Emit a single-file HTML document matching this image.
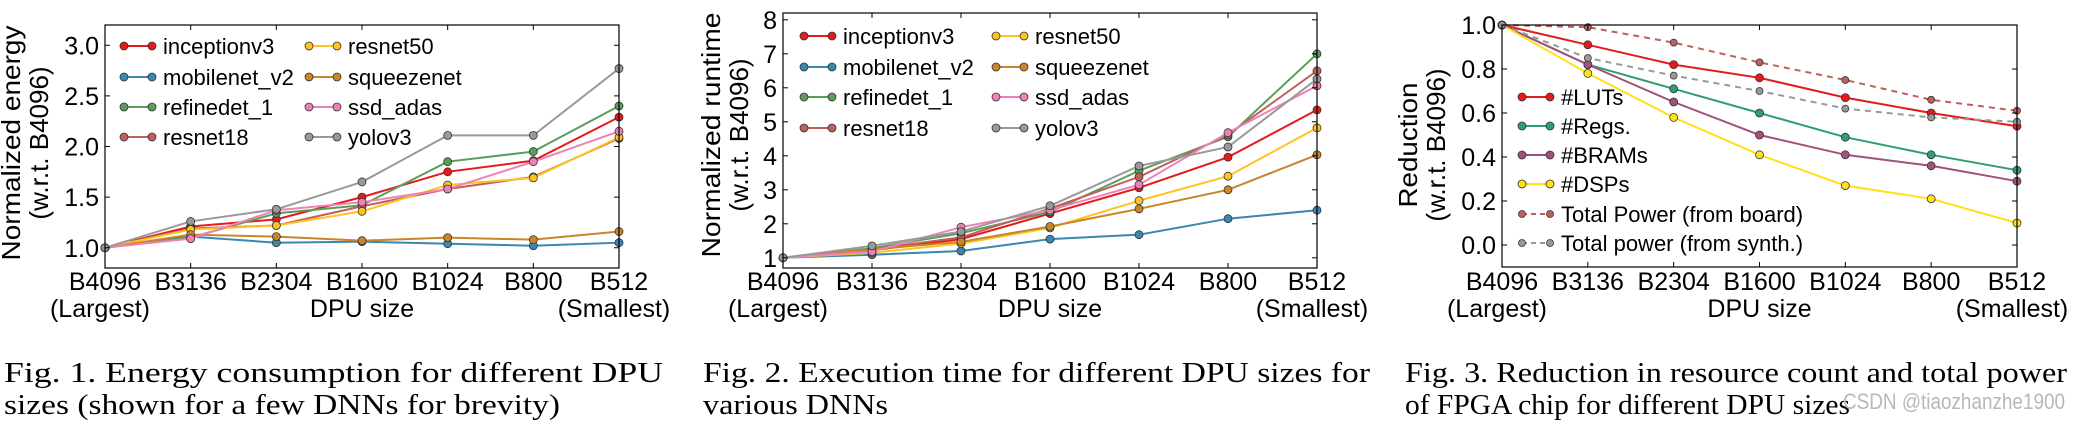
<!DOCTYPE html>
<html><head><meta charset="utf-8"><style>
html,body{margin:0;padding:0;background:#fff;}
svg{display:block;}
text{font-family:"Liberation Sans",sans-serif;fill:#000;}
.cap{font-family:"Liberation Serif",serif;font-size:29px;}
</style></head><body>
<svg id="root" width="2078" height="425" viewBox="0 0 2078 425" xmlns="http://www.w3.org/2000/svg"></svg>
<script>
// ---- shared categories ----
const categories = ["B4096","B3136","B2304","B1600","B1024","B800","B512"];
// ---- Fig 1: normalized energy ----
const energyNames = ["inceptionv3","mobilenet_v2","refinedet_1","resnet18","resnet50","squeezenet","ssd_adas","yolov3"];
const energyInception = [1.0,1.21,1.28,1.50,1.75,1.86,2.29];
const energyMobilenet = [1.0,1.11,1.05,1.06,1.04,1.02,1.05];
const energyRefinedet = [1.0,1.10,1.34,1.42,1.85,1.95,2.40];
const energyResnet18 = [1.0,1.19,1.22,1.41,1.58,1.70,2.08];
const energyResnet50 = [1.0,1.18,1.22,1.36,1.62,1.69,2.09];
const energySqueezenet = [1.0,1.13,1.11,1.07,1.10,1.08,1.16];
const energySsd = [1.0,1.09,1.37,1.45,1.58,1.85,2.15];
const energyYolo = [1.0,1.26,1.38,1.65,2.11,2.11,2.77];
const energyTicks = ["1.0","1.5","2.0","2.5","3.0"];
// ---- Fig 2: normalized runtime ----
const runtimeInception = [1.0,1.22,1.55,2.30,3.06,3.96,5.35];
const runtimeMobilenet = [1.0,1.09,1.20,1.55,1.68,2.15,2.40];
const runtimeRefinedet = [1.0,1.28,1.72,2.35,3.56,4.56,7.0];
const runtimeResnet18 = [1.0,1.25,1.60,2.45,3.38,4.62,6.5];
const runtimeResnet50 = [1.0,1.15,1.42,1.88,2.68,3.40,4.82];
const runtimeSqueezenet = [1.0,1.25,1.47,1.92,2.44,3.00,4.03];
const runtimeSsd = [1.0,1.18,1.90,2.40,3.15,4.68,6.06];
const runtimeYolo = [1.0,1.35,1.77,2.53,3.70,4.26,6.26];
const runtimeTicks = ["1","2","3","4","5","6","7","8"];
// ---- Fig 3: reduction ----
const reductionNames = ["#LUTs","#Regs.","#BRAMs","#DSPs","Total Power (from board)","Total power (from synth.)"];
const reductionLUTs = [1.0,0.91,0.82,0.76,0.67,0.60,0.54];
const reductionRegs = [1.0,0.82,0.71,0.60,0.49,0.41,0.34];
const reductionBRAMs = [1.0,0.82,0.65,0.50,0.41,0.36,0.29];
const reductionDSPs = [1.0,0.78,0.58,0.41,0.27,0.21,0.10];
const reductionBoard = [1.0,0.99,0.92,0.83,0.75,0.66,0.61];
const reductionSynth = [1.0,0.85,0.77,0.70,0.62,0.58,0.56];
const reductionTicks = ["0.0","0.2","0.4","0.6","0.8","1.0"];

const NS="http://www.w3.org/2000/svg";
const root=document.getElementById('root');
function mk(tag,attrs,parent){const e=document.createElementNS(NS,tag);for(const k in attrs)e.setAttribute(k,attrs[k]);(parent||root).appendChild(e);return e;}

const dnnColors=["#e41a1c","#3a87b2","#5a9e5a","#c0605a","#ffc320","#c8862a","#f081b8","#999999"];

function chart(cfg){
  const g=mk('g',{});
  
  
  const {x0,x1,y0,y1,vmin,vmax}=cfg;
  const xs=i=>x0+(x1-x0)*i/(categories.length-1);
  const ys=v=>y1-(v-vmin)/(vmax-vmin)*(y1-y0);
  cfg.series.forEach((s,si)=>{
    const sg=mk('g',{},g);
    
    
    const pts=s.values.map((v,i)=>xs(i)+','+ys(v)).join(' ');
    const pl=mk('polyline',{points:pts,fill:'none',stroke:s.color,'stroke-width':2,'stroke-dasharray':s.dash?'6,5':'none'},sg);
    
    
    s.values.forEach((v,i)=>{
      const c=mk('circle',{cx:xs(i),cy:ys(v),r:s.r||4,fill:s.color,stroke:'#333','stroke-width':0.8},sg);
      
      
    });
  });
  const fr=mk('rect',{x:x0,y:y0,width:x1-x0,height:y1-y0,fill:'none',stroke:'#000','stroke-width':1.2},g);
  
  
  categories.forEach((c,i)=>{
    const x=xs(i);
    mk('line',{x1:x,x2:x,y1:y1,y2:y1-5,stroke:'#000'},g);
    mk('line',{x1:x,x2:x,y1:y0,y2:y0+5,stroke:'#000'},g);
    const t=mk('text',{x:x,y:290,'font-size':25,'text-anchor':'middle'},g);
    t.textContent=c;
    
    
  });
  cfg.ticks.forEach(lbl=>{
    const y=ys(parseFloat(lbl));
    mk('line',{x1:x0,x2:x0+5,y1:y,y2:y,stroke:'#000'},g);
    mk('line',{x1:x1,x2:x1-5,y1:y,y2:y,stroke:'#000'},g);
    const t=mk('text',{x:x0-6,y:y+9,'font-size':25,'text-anchor':'end'},g);
    t.textContent=lbl;
    
    
  });
  const a=mk('text',{x:x0-5,y:317,'font-size':25,'text-anchor':'middle'},g);a.textContent='(Largest)';
  
  
  const b=mk('text',{x:(x0+x1)/2,y:317,'font-size':25,'text-anchor':'middle'},g);b.textContent='DPU size';
  
  
  const c=mk('text',{x:x1-5,y:317,'font-size':25,'text-anchor':'middle'},g);c.textContent='(Smallest)';
  
  
  const cy=cfg.titleY;
  const t1=mk('text',{x:0,y:0,'font-size':26,'text-anchor':'middle',transform:`translate(${cfg.titleX+9},${cy}) rotate(-90)`,textLength:cfg.titleLen,lengthAdjust:'spacingAndGlyphs'},g);
  t1.textContent=cfg.title1;
  
  
  const t2=mk('text',{x:0,y:0,'font-size':26,'text-anchor':'middle',transform:`translate(${cfg.titleX+37},${cy}) rotate(-90)`},g);
  t2.textContent='(w.r.t. B4096)';
  
  
  const lg=mk('g',{},g);
  
  
  cfg.series.forEach((s,si)=>{
    const p=cfg.legendPos(si);
    const e=mk('g',{},lg);
    
    
    mk('line',{x1:p.x,x2:p.x+28,y1:p.y,y2:p.y,stroke:s.color,'stroke-width':2,'stroke-dasharray':s.dash?'5,4':'none'},e);
    mk('circle',{cx:p.x,cy:p.y,r:s.r||4,fill:s.color,stroke:'#333','stroke-width':0.8},e);
    mk('circle',{cx:p.x+28,cy:p.y,r:s.r||4,fill:s.color,stroke:'#333','stroke-width':0.8},e);
    const t=mk('text',{x:p.x+39,y:p.y+8,'font-size':22},e);
    t.textContent=s.label;
  });
}

const energyVals=[energyInception,energyMobilenet,energyRefinedet,energyResnet18,energyResnet50,energySqueezenet,energySsd,energyYolo];
const runtimeVals=[runtimeInception,runtimeMobilenet,runtimeRefinedet,runtimeResnet18,runtimeResnet50,runtimeSqueezenet,runtimeSsd,runtimeYolo];

chart({name:'energy-chart',x0:105,x1:619,y0:25,y1:268,vmin:0.8,vmax:3.2,ticks:energyTicks,
  title1:'Normalized energy',titleX:11,titleY:143,titleLen:235,
  series:energyNames.map((n,i)=>({label:n,values:energyVals[i],color:dnnColors[i]})),
  legendPos:i=>({x:i<4?124:309,y:[46,77,107,137][i%4]})});
chart({name:'runtime-chart',x0:783,x1:1317,y0:13,y1:268,vmin:0.7,vmax:8.2,ticks:runtimeTicks,
  title1:'Normalized runtime',titleX:711,titleY:135,titleLen:245,
  series:energyNames.map((n,i)=>({label:n,values:runtimeVals[i],color:dnnColors[i]})),
  legendPos:i=>({x:i<4?804:996,y:[36,67,97,128][i%4]})});
const redVals=[reductionLUTs,reductionRegs,reductionBRAMs,reductionDSPs,reductionBoard,reductionSynth];
const redColors=["#e41a1c","#2f9e72","#a0527f","#ffe01a","#c0605a","#999999"];
chart({name:'reduction-chart',x0:1502,x1:2017,y0:25,y1:267,vmin:-0.1,vmax:1.0,ticks:reductionTicks,
  title1:'Reduction',titleX:1408,titleY:145,titleLen:125,
  series:reductionNames.map((n,i)=>({label:n,values:redVals[i],color:redColors[i],dash:i>=4,r:i>=4?3.5:4})),
  legendPos:i=>({x:1522,y:[97,126,155,184,214,243][i]})});

function cap(x,y,str,len,name){
  const t=mk('text',{x:x,y:y,'class':'cap'});
  if(len){t.setAttribute('textLength',len);t.setAttribute('lengthAdjust','spacingAndGlyphs');}
  t.textContent=str;
  
  
}
cap(4,382,'Fig. 1.  Energy consumption for different DPU',659,'caption-fig1-line1');
cap(4,414,'sizes (shown for a few DNNs for brevity)',556,'caption-fig1-line2');
cap(703,382,'Fig. 2.  Execution time for different DPU sizes for',667,'caption-fig2-line1');
cap(703,414,'various DNNs',185,'caption-fig2-line2');
cap(1405,382,'Fig. 3.  Reduction in resource count and total power',662,'caption-fig3-line1');
cap(1405,414,'of FPGA chip for different DPU sizes',445,'caption-fig3-line2');
const wm=mk('text',{x:1843,y:409,'font-size':22,textLength:222,lengthAdjust:'spacingAndGlyphs'});
wm.style.fill='#b8b8b8';
wm.textContent='CSDN @tiaozhanzhe1900';


</script>
</body></html>
